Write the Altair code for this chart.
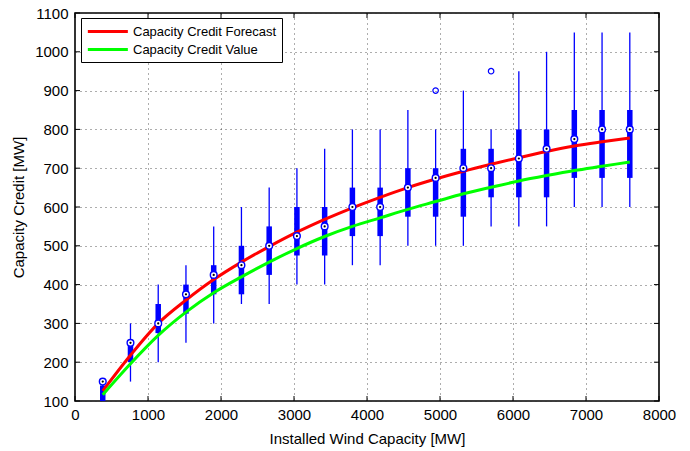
import altair as alt
import pandas as pd

# ---- data ----
positions = [380, 760, 1140, 1520, 1900, 2280, 2660, 3040, 3420, 3800,
             4180, 4560, 4940, 5320, 5700, 6080, 6460, 6840, 7220, 7600]
medians = [150, 250, 300, 375, 425, 450, 500, 525, 550, 600,
           600, 650, 675, 700, 700, 725, 750, 775, 800, 800]
q1 = [100, 200, 275, 325, 375, 375, 425, 475, 475, 525,
      525, 575, 575, 575, 625, 625, 625, 675, 675, 675]
q3 = [140, 250, 350, 400, 450, 500, 550, 600, 600, 650,
      650, 700, 700, 750, 750, 800, 800, 850, 850, 850]
whisker_low = [100, 150, 200, 250, 300, 350, 350, 400, 400, 450,
               450, 500, 500, 500, 550, 550, 550, 600, 600, 600]
whisker_high = [150, 300, 400, 450, 550, 600, 650, 700, 750, 800,
                800, 850, 800, 900, 800, 950, 1000, 1050, 1050, 1050]
outlier_x = [4940, 5700]
outlier_y = [900, 950]

forecast = [126, 218, 300, 360, 413, 458, 498, 535, 568, 598,
            625, 650, 672, 692, 710, 727, 743, 757, 768, 778]
credit_value = [116, 196, 269, 329, 379, 420, 458, 493, 524, 550,
                572, 594, 614, 634, 651, 667, 681, 694, 705, 716]

series_names = ["Capacity Credit Forecast", "Capacity Credit Value"]
x_ticks = [0, 1000, 2000, 3000, 4000, 5000, 6000, 7000, 8000]
y_ticks = [100, 200, 300, 400, 500, 600, 700, 800, 900, 1000, 1100]

W, H = 584, 388
FONT = "Liberation Sans"
BLUE = "#0000FF"

boxes = pd.DataFrame({"x": positions, "med": medians, "q1": q1, "q3": q3,
                      "lo": whisker_low, "hi": whisker_high})
outl = pd.DataFrame({"x": outlier_x, "y": outlier_y})
lines = pd.DataFrame({
    "x": positions * 2,
    "y": forecast + credit_value,
    "series": [series_names[0]] * len(positions) + [series_names[1]] * len(positions),
})
xt = pd.DataFrame({"v": x_ticks})
yt = pd.DataFrame({"v": y_ticks})

xscale = alt.Scale(domain=[0, 8000], nice=False, zero=False)
yscale = alt.Scale(domain=[100, 1100], nice=False, zero=False)

xaxis = alt.Axis(values=x_ticks, format="d", grid=True, gridDash=[1, 4],
                 gridColor="#333333", gridOpacity=0.8, domain=False, ticks=False,
                 labelFontSize=15, labelFont=FONT, labelColor="black",
                 labelPadding=6, labelOverlap=False, title="Installed Wind Capacity [MW]",
                 titleFont=FONT, titleFontSize=15, titleFontWeight="normal",
                 titleColor="black", titlePadding=9, labelFlush=False)
yaxis = alt.Axis(values=y_ticks, format="d", grid=True, gridDash=[1, 4],
                 gridColor="#333333", gridOpacity=0.8, domain=False, ticks=False,
                 labelFontSize=15, labelFont=FONT, labelColor="black",
                 labelPadding=7, labelOverlap=False, title="Capacity Credit [MW]",
                 titleFont=FONT, titleFontSize=15, titleFontWeight="normal",
                 titleColor="black", titlePadding=8, labelFlush=False)

base = alt.Chart(boxes)


def X(field):
    return alt.X(field, scale=xscale, axis=xaxis)


def Y(field):
    return alt.Y(field, scale=yscale, axis=yaxis)


whiskers = base.mark_rule(color=BLUE, strokeWidth=1.3, clip=True).encode(
    x=X("x:Q"), y=Y("lo:Q"), y2="hi:Q",
)
box_rect = base.mark_rule(color=BLUE, strokeWidth=5.5, clip=True).encode(
    x=X("x:Q"), y=Y("q1:Q"), y2="q3:Q"
)
curve = alt.Chart(lines).mark_line(strokeWidth=3, interpolate="monotone").encode(
    x=X("x:Q"),
    y=Y("y:Q"),
    color=alt.Color("series:N",
                    scale=alt.Scale(domain=series_names, range=["#FF0000", "#00FF00"]),
                    legend=alt.Legend(title=None, orient="none", legendX=6, legendY=5,
                                      symbolType="M-1,0H5", symbolSize=178,
                                      symbolStrokeWidth=3, labelFont=FONT,
                                      labelFontSize=13, labelColor="black",
                                      labelOffset=30, rowPadding=2, padding=5,
                                      strokeColor="black", fillColor="white")),
)
med_circle = base.mark_point(shape="circle", filled=True, fill="white", stroke=BLUE,
                             strokeWidth=1.4, size=45, opacity=1).encode(
    x=X("x:Q"), y=Y("med:Q")
)
med_dot = base.mark_point(shape="circle", filled=True, color="black", size=5, opacity=1).encode(
    x=X("x:Q"), y=Y("med:Q")
)
outliers = alt.Chart(outl).mark_point(shape="circle", filled=False, color=BLUE,
                                      strokeWidth=1.2, size=30, opacity=1).encode(
    x=X("x:Q"), y=Y("y:Q")
)

# inward tick marks on all four sides (MATLAB style)
xt_bottom = alt.Chart(xt).mark_rule(color="black", strokeWidth=1).encode(
    x=X("v:Q"), y=alt.value(H - 5), y2=alt.value(H))
xt_top = alt.Chart(xt).mark_rule(color="black", strokeWidth=1).encode(
    x=X("v:Q"), y=alt.value(0), y2=alt.value(5))
yt_left = alt.Chart(yt).mark_rule(color="black", strokeWidth=1).encode(
    y=Y("v:Q"), x=alt.value(0), x2=alt.value(5))
yt_right = alt.Chart(yt).mark_rule(color="black", strokeWidth=1).encode(
    y=Y("v:Q"), x=alt.value(W - 5), x2=alt.value(W))

chart = alt.layer(
    whiskers, box_rect, curve, med_circle, med_dot, outliers,
    xt_bottom, xt_top, yt_left, yt_right
).properties(
    width=W, height=H,
    autosize=alt.AutoSizeParams(type="none"),
    padding={"left": 75, "top": 13, "right": 31, "bottom": 50},
    background="white",
).configure_view(stroke="black", strokeWidth=1.6).configure_axis(labelOverlap=False)

chart.save("out.html", embed_options={"renderer": "svg", "actions": False})
